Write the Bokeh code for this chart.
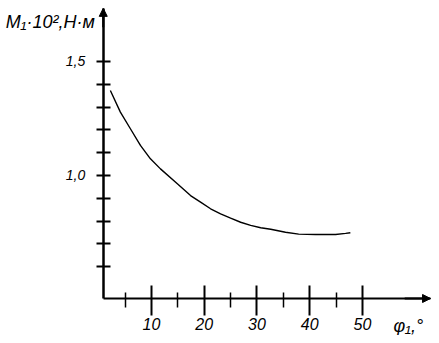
from bokeh.plotting import figure
from bokeh.models import FixedTicker, Range1d, Label, Arrow, NormalHead
from bokeh.embed import file_html
from bokeh.resources import INLINE

# Data
phi = [2.2, 4.1, 6.0, 7.9, 9.8, 11.7, 14.9, 17.4, 19.3, 21.2, 23.1, 25.0,
       26.9, 28.8, 30.7, 32.6, 35.4, 37.9, 41.1, 44.9, 46.8, 47.7]
moment = [1.373, 1.278, 1.205, 1.132, 1.073, 1.029, 0.964, 0.912, 0.883, 0.854,
          0.832, 0.813, 0.795, 0.781, 0.771, 0.764, 0.751, 0.743, 0.741, 0.741,
          0.746, 0.749]

x_major = [10, 20, 30, 40, 50]
x_minor = [5, 15, 25, 35, 45]
y_ticks = [0.6, 0.7, 0.8, 0.9, 1.0, 1.1, 1.2, 1.3, 1.4, 1.5]
y_tick_labels = {0.6: "", 0.7: "", 0.8: "", 0.9: "", 1.0: "1,0",
                 1.1: "", 1.2: "", 1.3: "", 1.4: "", 1.5: "1,5"}
y_title = "M₁·10²,H·м"
x_title = "φ₁,°"

FONT = "Liberation Sans"

# origin of the axes (data units) and axis ends
X0, Y0 = 0.85, 0.4605
X_END, Y_END = 62.9, 1.733

p = figure(width=431, height=335, output_backend="svg", toolbar_location=None,
           x_range=Range1d(-18.626, 63.081), y_range=Range1d(0.2982, 1.7675),
           min_border_left=0, min_border_right=0, min_border_top=0,
           min_border_bottom=0)
p.outline_line_color = None
p.grid.visible = False
p.background_fill_color = "white"
p.border_fill_color = "white"

p.line(phi, moment, line_color="black", line_width=1.4)

# x axis
xa = p.xaxis[0]
xa.fixed_location = Y0
xa.bounds = (X0, X_END)
xa.ticker = FixedTicker(ticks=x_major, minor_ticks=x_minor)
xa.axis_line_width = 2
xa.major_tick_line_width = 2
xa.minor_tick_line_width = 1.5
xa.major_tick_in = 13
xa.major_tick_out = 17
xa.minor_tick_in = 6
xa.minor_tick_out = 9
xa.major_label_standoff = 3
xa.major_label_text_font = FONT
xa.major_label_text_font_style = "italic"
xa.major_label_text_font_size = "16px"
xa.major_label_text_color = "black"

# y axis
ya = p.yaxis[0]
ya.fixed_location = X0
ya.bounds = (Y0, Y_END)
ya.ticker = FixedTicker(ticks=y_ticks, minor_ticks=[])
ya.major_label_overrides = y_tick_labels
ya.axis_line_width = 2.5
ya.major_tick_line_width = 2
ya.major_tick_in = 7
ya.major_tick_out = 7
ya.minor_tick_in = 0
ya.minor_tick_out = 0
ya.major_label_standoff = 11
ya.major_label_text_font = FONT
ya.major_label_text_font_style = "italic"
ya.major_label_text_font_size = "14px"
ya.major_label_text_color = "black"

# arrow heads
p.add_layout(Arrow(end=NormalHead(size=8, fill_color="black", line_color="black"),
                   x_start=X0, y_start=1.65, x_end=X0, y_end=Y_END,
                   line_width=2, line_color="black"))
p.add_layout(Arrow(end=NormalHead(size=8, fill_color="black", line_color="black"),
                   x_start=58.0, y_start=Y0, x_end=X_END, y_end=Y0,
                   line_width=2, line_color="black"))

# axis titles
p.add_layout(Label(x=-9.2, y=1.675, text=y_title, text_font=FONT,
                   text_font_style="italic", text_font_size="18px",
                   text_align="center", text_baseline="middle", text_color="black"))
p.add_layout(Label(x=58.7, y=0.342, text=x_title, text_font=FONT,
                   text_font_style="italic", text_font_size="18px",
                   text_align="center", text_baseline="middle", text_color="black"))

open("out.html", "w").write(file_html(p, INLINE))
